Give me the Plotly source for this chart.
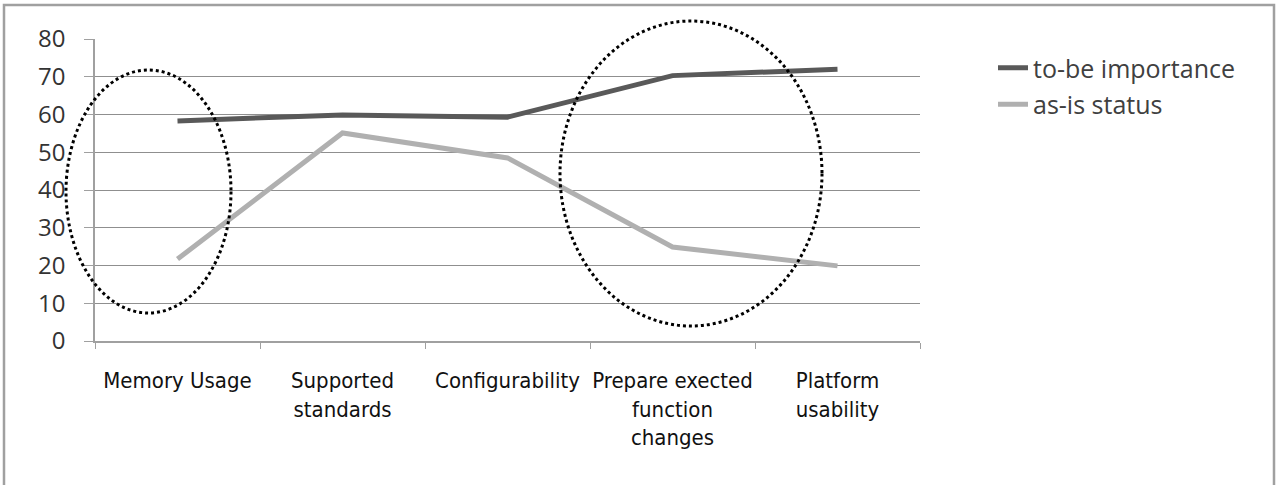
import plotly.graph_objects as go

categories = ["Memory Usage", "Supported<br>standards", "Configurability",
              "Prepare exected<br>function<br>changes", "Platform<br>usability"]
to_be_importance = [58.3, 59.9, 59.3, 70.3, 72.0]
as_is_status = [21.7, 55.1, 48.5, 24.9, 19.9]
y_ticks = [0, 10, 20, 30, 40, 50, 60, 70, 80]

L, R, T, B = 95, 920, 39, 341
W, H = 1280, 485

def px(x):
    return (x - L) / (R - L)

def py(y):
    return (B - y) / (B - T)

fig = go.Figure()
fig.add_trace(go.Scatter(x=categories, y=to_be_importance, mode="lines",
                         name="to-be importance", legendgroup="a",
                         line=dict(color="#595959", width=5)))
fig.add_trace(go.Scatter(x=categories, y=as_is_status, mode="lines",
                         name="as-is status", legendgroup="b",
                         line=dict(color="#b0b0b0", width=5)))

# outer border
fig.add_shape(type="rect", xref="paper", yref="paper",
              x0=px(4), x1=px(1274), y0=py(492), y1=py(5),
              line=dict(color="#a0a0a0", width=2.5), layer="below")

# dotted ellipses
fig.add_shape(type="circle", xref="paper", yref="paper",
              x0=px(66), x1=px(231), y0=py(313), y1=py(70),
              line=dict(color="black", width=3, dash="dot"))
fig.add_shape(type="circle", xref="paper", yref="paper",
              x0=px(560), x1=px(822), y0=py(326), y1=py(21),
              line=dict(color="black", width=3, dash="dot"))

fig.update_layout(
    width=W, height=H,
    margin=dict(l=L, r=W - R, t=T, b=H - B),
    paper_bgcolor="white", plot_bgcolor="white",
    font=dict(family="Open Sans", color="#404040"),
    showlegend=True,
    legend=dict(x=px(993), y=py(45), xanchor="left", yanchor="top",
                font=dict(size=25, family="Open Sans", color="#404040"),
                traceorder="grouped", tracegroupgap=1,
                bgcolor="rgba(0,0,0,0)"),
)
fig.update_yaxes(range=[0, 80], tickvals=y_ticks, showgrid=True,
                 gridcolor="#8f8f8f", gridwidth=1,
                 showline=True, linecolor="#a0a0a0", linewidth=1.5,
                 ticks="outside", ticklen=9, tickcolor="#a0a0a0",
                 ticklabelstandoff=14, zeroline=False,
                 tickfont=dict(size=24, family="Open Sans", color="#333333"))
fig.update_xaxes(range=[-0.5, 4.5], showgrid=False, showline=True,
                 linecolor="#a0a0a0", linewidth=1.5, ticks="outside", ticklen=6,
                 tickcolor="#a0a0a0", tickson="boundaries",
                 ticklabelstandoff=19, tickangle=0,
                 tickfont=dict(size=22, family="DejaVu Sans Condensed, Lato",
                               color="#111111"))

fig.write_html("out.html")
